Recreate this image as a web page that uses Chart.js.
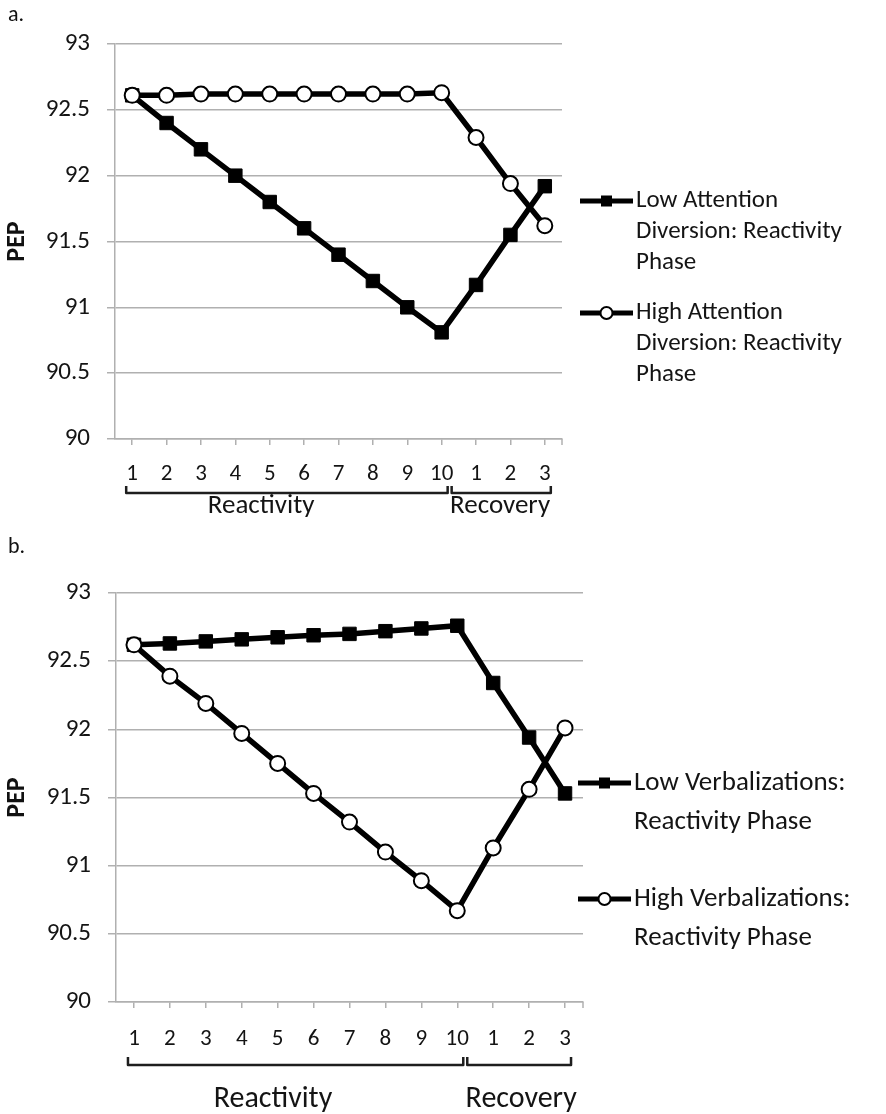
<!DOCTYPE html>
<html>
<head>
<meta charset="utf-8">
<script src="https://cdn.jsdelivr.net/npm/chart.js@4.4.1/dist/chart.umd.min.js"></script>
<style>
  html, body { margin: 0; padding: 0; background: #fff; }
  body { width: 886px; height: 1114px; position: relative; overflow: hidden; font-family: Carlito, Lato, sans-serif; }
  .wrap { position: absolute; left: 0; }
  .tag { position: absolute; left: 8px; font-size: 22px; line-height: 1; color: #111; }
</style>
</head>
<body>
<div class="wrap" style="top:0"><canvas id="chartA" width="886" height="530"></canvas></div>
<div class="wrap" style="top:540px"><canvas id="chartB" width="886" height="574"></canvas></div>
<div class="tag" style="top:3px">a.</div>
<div class="tag" style="top:535px">b.</div>

<script>
// --- data ---
const sessionLabels = ['1', '2', '3', '4', '5', '6', '7', '8', '9', '10', '1', '2', '3'];
const phaseNames = ['Reactivity', 'Recovery'];
const phaseLengths = [10, 3];
const yMin = 90;
const yMax = 93;
const yStep = 0.5;

// panel a: attention diversion
const lowAttention  = [92.61, 92.40, 92.20, 92.00, 91.80, 91.60, 91.40, 91.20, 91.00, 90.81, 91.17, 91.55, 91.92];
const highAttention = [92.61, 92.61, 92.62, 92.62, 92.62, 92.62, 92.62, 92.62, 92.62, 92.63, 92.29, 91.94, 91.62];
const legendA = [
  ['Low Attention', 'Diversion: Reactivity', 'Phase'],
  ['High Attention', 'Diversion: Reactivity', 'Phase']
];

// panel b: verbalizations
const lowVerbal  = [92.62, 92.63, 92.645, 92.66, 92.675, 92.69, 92.70, 92.72, 92.74, 92.76, 92.34, 91.94, 91.53];
const highVerbal = [92.62, 92.39, 92.19, 91.97, 91.75, 91.53, 91.32, 91.10, 90.89, 90.67, 91.13, 91.56, 92.01];
const legendB = [
  ['Low Verbalizations:', 'Reactivity Phase'],
  ['High Verbalizations:', 'Reactivity Phase']
];

const FONT = 'Carlito, Lato, sans-serif';
const INK = '#141414';
const GRID = '#b0b0b0';

/**
 * Draws the grouped category brackets, the extra end tick and the legend
 */
const extrasPlugin = {
  id: 'extras',
  afterDraw(chart, args, o) {
    const { ctx, chartArea: ca, scales: { x } } = chart;
    ctx.save();

    // closing tick at the right end of the category axis
    ctx.strokeStyle = GRID;
    ctx.lineWidth = 1.5;
    ctx.beginPath();
    ctx.moveTo(ca.right, ca.bottom);
    ctx.lineTo(ca.right, ca.bottom + 6);
    ctx.stroke();

    // phase brackets
    ctx.strokeStyle = '#1e1e1e';
    ctx.lineWidth = 2.5;
    ctx.lineJoin = 'round';
    ctx.fillStyle = INK;
    ctx.font = `${o.groupFont}px ${FONT}`;
    ctx.textAlign = 'center';
    ctx.textBaseline = 'middle';
    let start = 0;
    let prevEnd = null;
    phaseNames.forEach((name, i) => {
      const end = start + phaseLengths[i] - 1;
      const x0 = prevEnd === null ? x.getPixelForTick(start) - 6 : prevEnd + 4;
      const x1 = x.getPixelForTick(end) + 6;
      ctx.beginPath();
      ctx.moveTo(x0, o.bracketY - o.bracketH);
      ctx.lineTo(x0, o.bracketY);
      ctx.lineTo(x1, o.bracketY);
      ctx.lineTo(x1, o.bracketY - o.bracketH);
      ctx.stroke();
      const lx = x.getPixelForValue(o.groupLabelAt[i]);
      ctx.fillText(name, lx, o.groupY);
      prevEnd = x1;
      start = end + 1;
    });

    // legend
    const lg = o.legend;
    ctx.textAlign = 'left';
    ctx.font = `${lg.size}px ${FONT}`;
    chart.data.datasets.forEach((ds, i) => {
      const y = lg.y + i * lg.itemGap;
      ctx.strokeStyle = '#000';
      ctx.lineWidth = 5;
      ctx.beginPath();
      ctx.moveTo(lg.x, y);
      ctx.lineTo(lg.x + lg.sample, y);
      ctx.stroke();
      const cx = lg.x + lg.sample / 2;
      if (ds.pointStyle === 'rect') {
        ctx.fillStyle = '#000';
        ctx.fillRect(cx - 5.5, y - 5.5, 11, 11);
      } else {
        ctx.fillStyle = '#fff';
        ctx.lineWidth = 2;
        ctx.beginPath();
        ctx.arc(cx, y, 6, 0, Math.PI * 2);
        ctx.fill();
        ctx.stroke();
      }
      ctx.fillStyle = INK;
      ds.legendLines.forEach((line, k) => {
        ctx.fillText(line, lg.x + lg.sample + 3, y + k * lg.lineGap);
      });
    });

    ctx.restore();
  }
};

function lineDataset(values, square, lines, order) {
  return {
    label: lines.join(' '),
    legendLines: lines,
    data: values,
    borderColor: '#000',
    borderWidth: 5.5,
    tension: 0,
    order: order,
    pointStyle: square ? 'rect' : 'circle',
    pointRadius: square ? 9.5 : 7.5,
    pointBackgroundColor: square ? '#000' : '#fff',
    pointBorderColor: '#000',
    pointBorderWidth: square ? 1 : 2
  };
}

function makeChart(id, low, high, legendLines, lay) {
  const canvas = document.getElementById(id);
  return new Chart(canvas, {
    type: 'line',
    data: {
      labels: sessionLabels,
      datasets: [
        lineDataset(low, true, legendLines[0], 1),
        lineDataset(high, false, legendLines[1], 0)
      ]
    },
    plugins: [extrasPlugin],
    options: {
      responsive: false,
      animation: false,
      events: [],
      layout: { padding: { top: lay.top, right: canvas.width - lay.right, left: 0, bottom: 0 } },
      plugins: {
        legend: { display: false },
        tooltip: { enabled: false },
        extras: lay.extras
      },
      scales: {
        x: {
          offset: true,
          ticks: { color: INK, font: { family: FONT, size: 23 }, padding: lay.xPad, autoSkip: false, maxRotation: 0 },
          grid: { drawOnChartArea: false, offset: false, tickLength: 6, color: GRID, lineWidth: 1.5 },
          border: { color: GRID, width: 1.5 },
          afterFit(s) { s.height = canvas.height - lay.bottom; }
        },
        y: {
          min: yMin,
          max: yMax,
          ticks: {
            stepSize: yStep,
            color: INK,
            font: { family: FONT, size: 25 },
            padding: 17,
            callback: (v) => String(v)
          },
          grid: { color: GRID, lineWidth: 1.5, tickLength: 8, tickColor: GRID },
          border: { color: GRID, width: 1.5 },
          title: { display: true, text: 'PEP', color: '#111', font: { family: FONT, size: 26, weight: 'bold' }, padding: { top: 2, bottom: 0 } },
          afterFit(s) { s.width = lay.left; }
        }
      }
    }
  });
}

makeChart('chartA', lowAttention, highAttention, legendA, {
  left: 115, top: 44, right: 562, bottom: 439, xPad: 15,
  extras: {
    bracketY: 493, bracketH: 7, groupY: 506, groupFont: 27, groupLabelAt: [3.75, 10.7],
    legend: { x: 580, y: 201, sample: 53, lineGap: 31, itemGap: 112, size: 25 }
  }
});

makeChart('chartB', lowVerbal, highVerbal, legendB, {
  left: 116, top: 53, right: 583, bottom: 462, xPad: 17,
  extras: {
    bracketY: 525, bracketH: 8, groupY: 559, groupFont: 30, groupLabelAt: [3.87, 10.78],
    legend: { x: 578, y: 243, sample: 53, lineGap: 39, itemGap: 116, size: 27 }
  }
});
</script>
</body>
</html>
